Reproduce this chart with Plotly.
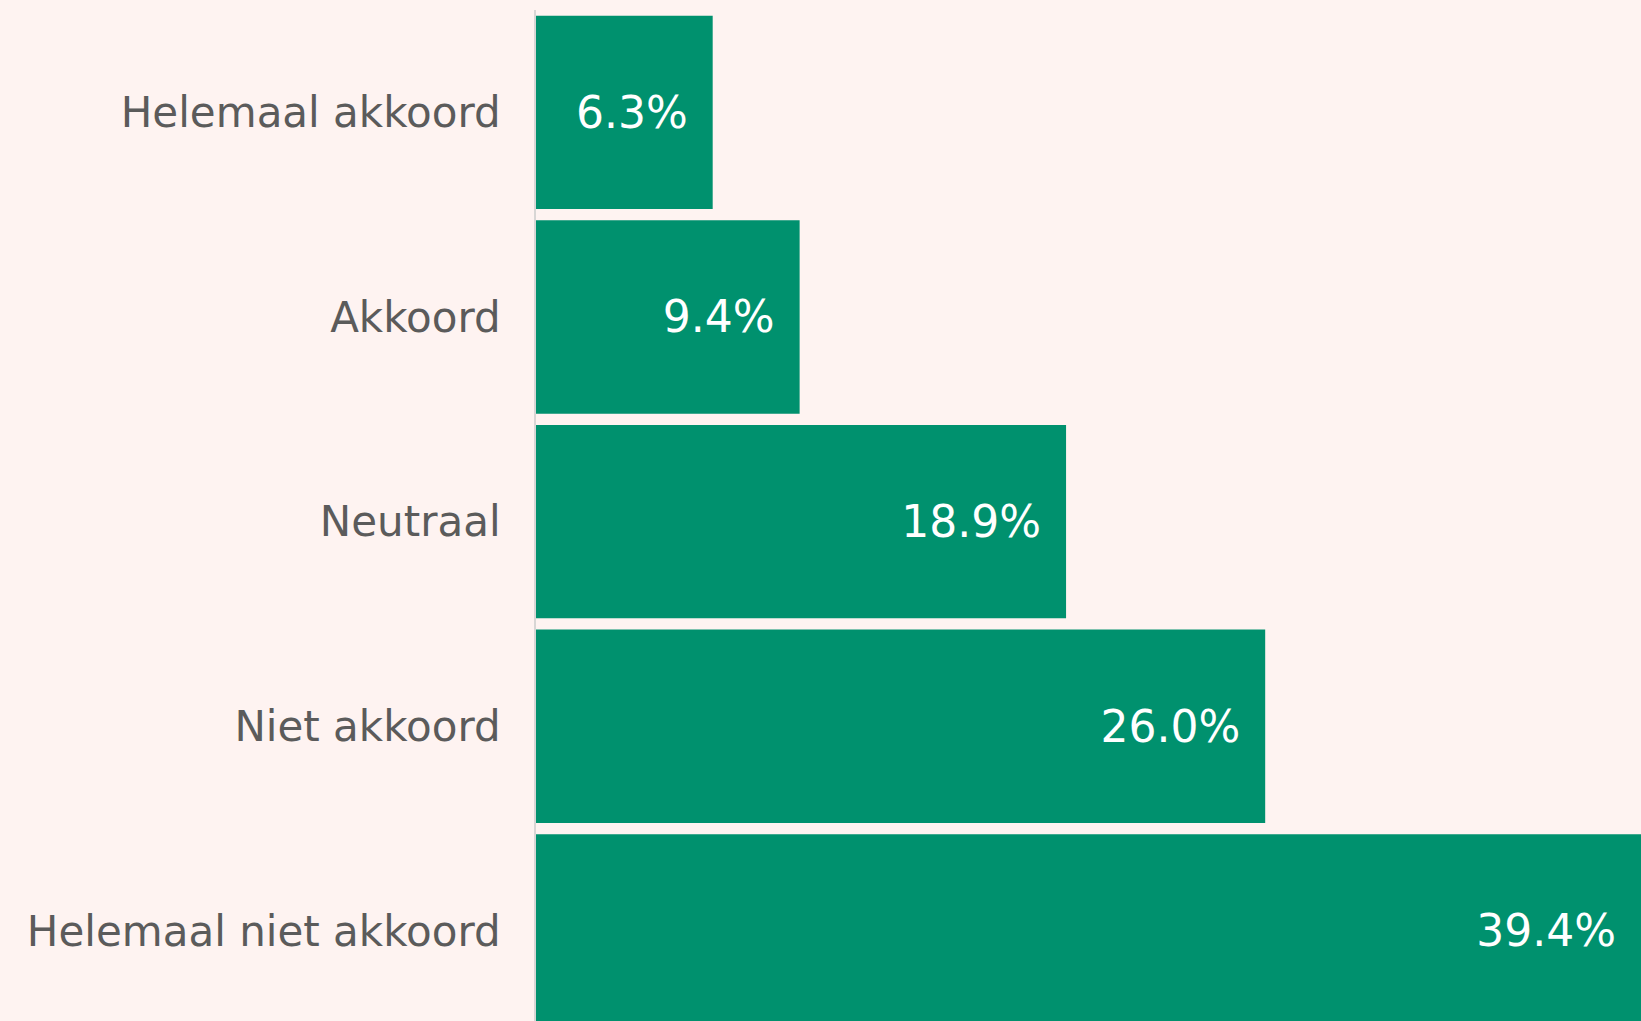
import plotly.graph_objects as go

categories = [
    "Helemaal akkoord",
    "Akkoord",
    "Neutraal",
    "Niet akkoord",
    "Helemaal niet akkoord",
]
shares = [6.3, 9.4, 18.9, 26.0, 39.4]

BG = "#FEF3F1"
GREEN = "#00916E"
GREY_TEXT = "#5b5b5b"
FONT = "DejaVu Sans"

# one en space keeps the value a bit away from the bar end
labels = [f"{v:.1f}%\u2002" for v in shares]

fig = go.Figure(
    go.Bar(
        x=shares,
        y=categories,
        orientation="h",
        marker=dict(color=GREEN, line=dict(width=0)),
        text=labels,
        textposition="inside",
        insidetextanchor="end",
        textfont=dict(family=FONT, size=44, color="white"),
        hoverinfo="x+y",
    )
)

fig.update_layout(
    width=1641,
    height=1021,
    paper_bgcolor=BG,
    plot_bgcolor=BG,
    bargap=0.055,
    showlegend=False,
    uniformtext=dict(minsize=30, mode="show"),
    margin=dict(l=536, r=0, t=10, b=0),
    xaxis=dict(
        range=[0, 39.4],
        visible=False,
        fixedrange=True,
    ),
    yaxis=dict(
        categoryorder="array",
        categoryarray=categories,
        range=[4.44, -0.5],
        showgrid=False,
        zeroline=False,
        showline=True,
        linecolor="#d8d6d5",
        linewidth=2,
        ticks="",
        ticklabelstandoff=25,
        tickfont=dict(family=FONT, size=42, color=GREY_TEXT),
        fixedrange=True,
    ),
)

fig.write_html(
    "out.html",
    config={"displayModeBar": False},
    post_script="document.body.style.margin='0';",
)
